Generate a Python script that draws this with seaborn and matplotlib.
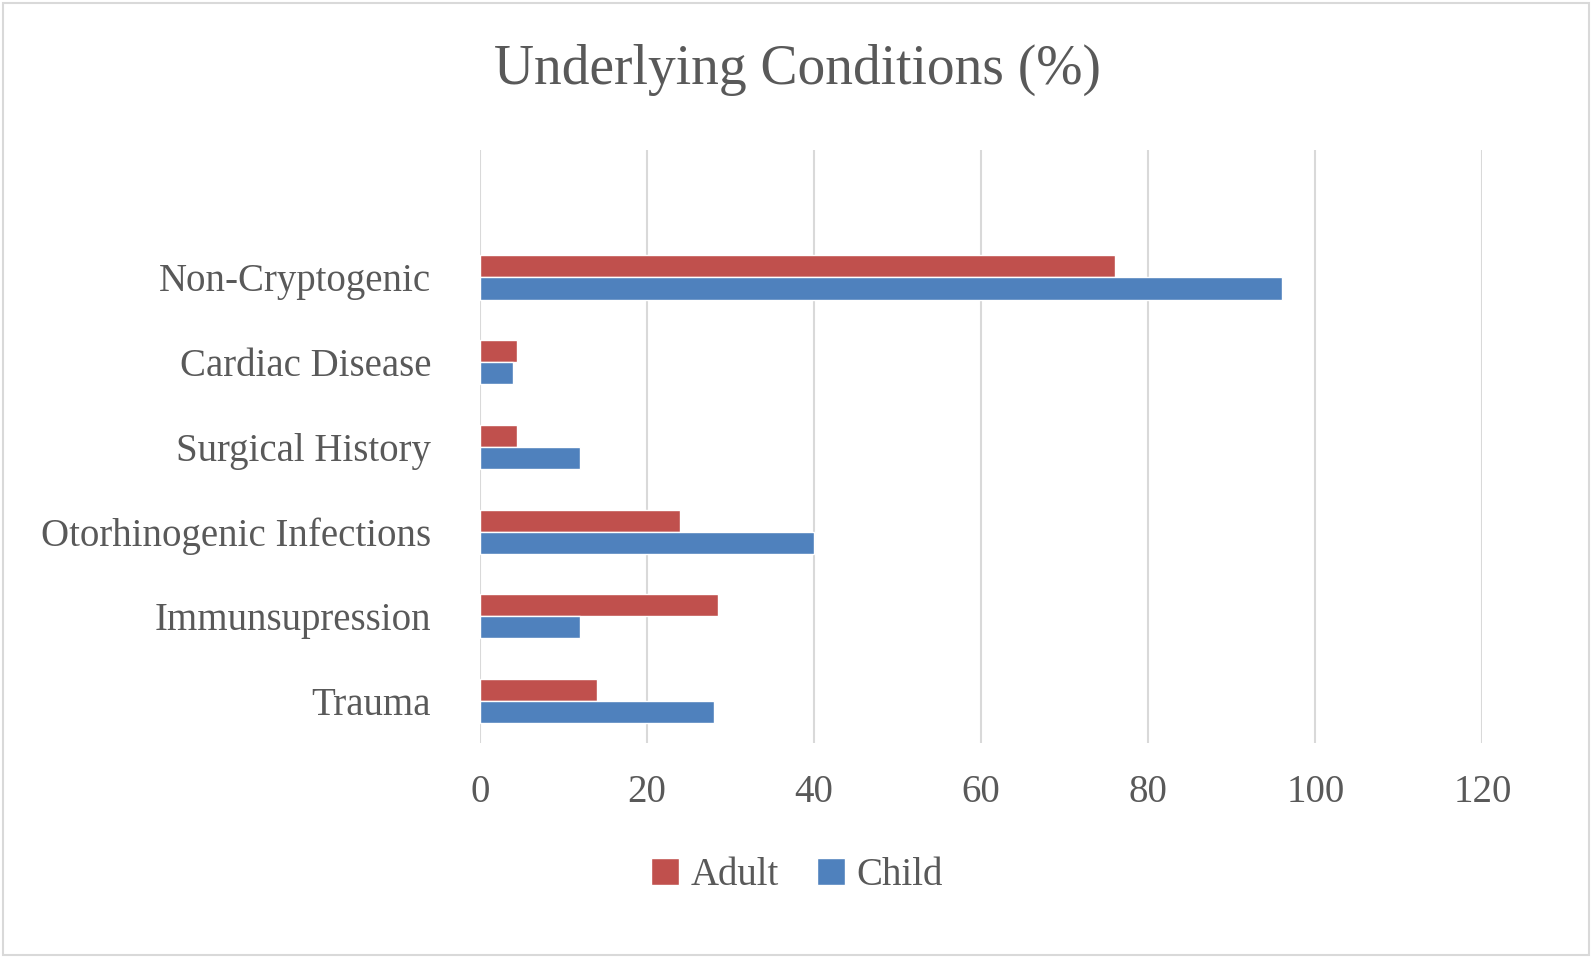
import matplotlib
matplotlib.use("Agg")
import matplotlib.pyplot as plt
import seaborn as sns
import pandas as pd

categories = ["Non-Cryptogenic", "Cardiac Disease", "Surgical History",
              "Otorhinogenic Infections", "Immunsupression", "Trauma"]
adult = [76, 4.5, 4.5, 24, 28.5, 14]
child = [96, 4, 12, 40, 12, 28]

df = pd.DataFrame({
    "cat": categories * 2,
    "val": adult + child,
    "grp": ["Adult"] * 6 + ["Child"] * 6,
})

sns.set_theme(style="white")
plt.rcParams["font.family"] = ["Liberation Serif", "DejaVu Serif"]
fig = plt.figure(figsize=(15.94, 9.58), dpi=100)
ax = fig.add_axes([0.301, 0.224, 0.629, 0.619])
sns.barplot(data=df, y="cat", x="val", hue="grp", order=categories,
            palette={"Adult": "#C0504D", "Child": "#4F81BD"}, saturation=1,
            orient="h", width=0.52, ax=ax, legend=True)
ax.set_xlim(0, 120)
ax.set_xticks(range(0, 121, 20))
ax.set_ylim(5.5, -1.5)
ax.grid(axis="x", color="#D9D9D9", linewidth=1.5)
ax.set_axisbelow(True)
for s in ax.spines.values():
    s.set_visible(False)
ax.set_xlabel(""); ax.set_ylabel("")
ax.tick_params(axis="both", length=0, labelsize=28, colors="#595959", pad=22)
ax.tick_params(axis="y", pad=35)
h, l = ax.get_legend_handles_labels()
ax.get_legend().remove()
fig.legend(h, l, loc="center", bbox_to_anchor=(0.5, 0.086), ncol=2, frameon=False,
           fontsize=28, labelcolor="#595959", handlelength=0.7, handleheight=0.7,
           columnspacing=1.0, handletextpad=0.3)
fig.text(0.5, 0.927, "Underlying Conditions (%)", ha="center", va="center",
         fontsize=40, color="#595959")
fig.patches.append(plt.Rectangle((0.002, 0.003), 0.995, 0.994, transform=fig.transFigure,
                                 fill=False, edgecolor="#D9D9D9", linewidth=1.5))
fig.savefig("out.png", dpi=100)
